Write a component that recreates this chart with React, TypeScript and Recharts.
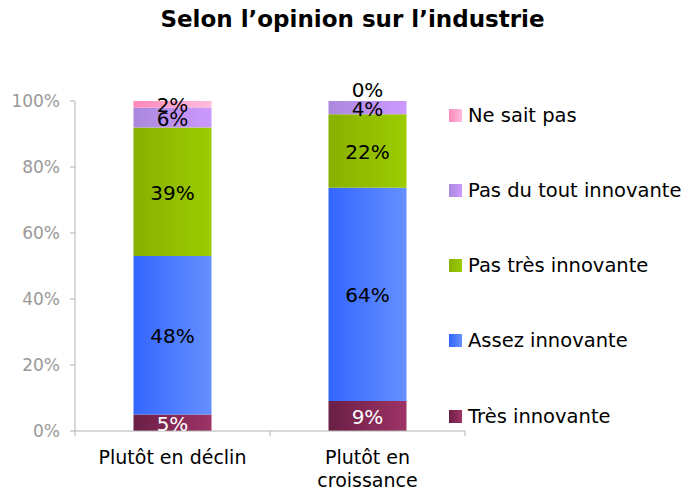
import { BarChart, Bar, XAxis, YAxis, LabelList } from "recharts";

const categories = ["Plutôt en déclin", "Plutôt en croissance"];
const tresInnovante = [5, 9];
const assezInnovante = [48, 64];
const pasTresInnovante = [39, 22];
const pasDuToutInnovante = [6, 4];
const neSaitPas = [2, 0];

const yTicks = [0, 0.2, 0.4, 0.6, 0.8, 1];

const series = [
    { key: "tres", name: "Très innovante", values: tresInnovante, from: "#6a1f45", to: "#9e3366", text: "#ffffff" },
    { key: "assez", name: "Assez innovante", values: assezInnovante, from: "#3366ff", to: "#6690ff", text: "#000000" },
    { key: "pasTres", name: "Pas très innovante", values: pasTresInnovante, from: "#88b000", to: "#9ccc00", text: "#000000" },
    { key: "pasDuTout", name: "Pas du tout innovante", values: pasDuToutInnovante, from: "#aa88dd", to: "#cc99ff", text: "#000000" },
    { key: "nsp", name: "Ne sait pas", values: neSaitPas, from: "#ff88bb", to: "#ffbbdd", text: "#000000" },
];

const data = categories.map((cat, i) => {
    const row: Record<string, string | number> = { cat };
    series.forEach((s) => {
        row[s.key] = s.values[i];
    });
    return row;
});

const FONT = "'DejaVu Sans', Verdana, sans-serif";

// zero-height segments get no label of their own, so the segment below
// prints the "0%" of the one on top of it, above the bar
const makeLabel = (color: string, above?: number[]) => (props: any) => {
    const { x, y, width, height, value, index } = props;
    if (value === 0) return null;
    const cx = x + width / 2;
    const extra = above && above[index] === 0;
    return (
        <g>
            <text x={cx} y={y + height / 2 + 1} fill={color} fontSize={20} fontFamily={FONT}
                textAnchor="middle" dominantBaseline="central">
                {value}%
            </text>
            {extra && (
                <text x={cx} y={y - 11} fill="#000" fontSize={20} fontFamily={FONT}
                    textAnchor="middle" dominantBaseline="central">
                    {above![index]}%
                </text>
            )}
        </g>
    );
};

// simple word wrap, like the excel original
const wrap = (s: string, max: number) => {
    const lines: string[] = [];
    let cur = "";
    s.split(" ").forEach((w) => {
        const next = cur ? cur + " " + w : w;
        if (next.length > max && cur) {
            lines.push(cur);
            cur = w;
        } else cur = next;
    });
    if (cur) lines.push(cur);
    return lines;
};

const CatTick = (props: any) => {
    const { x, y, payload, index } = props;
    const band = 195;
    return (
        <g>
            <line x1={x + band / 2} y1={y - 8} x2={x + band / 2} y2={y - 3} stroke="#b3b3b3" />
            {index === 0 && <line x1={x - band / 2} y1={y - 8} x2={x - band / 2} y2={y - 3} stroke="#b3b3b3" />}
            <text x={x} y={y + 10} textAnchor="middle" fontSize={19} fontFamily={FONT} fill="#000">
                {wrap(payload.value, 16).map((l, i) => (
                    <tspan key={i} x={x} dy={i === 0 ? "0.8em" : 23}>{l}</tspan>
                ))}
            </text>
        </g>
    );
};

export default function App() {
    return (
        <div style={{ position: "absolute", left: 0, top: 0, width: 685, height: 491, background: "#fff", fontFamily: FONT }}>
            <div style={{ position: "absolute", left: 0, width: 685, top: 6, textAlign: "center", fontSize: 23, fontWeight: "bold", paddingLeft: 20, boxSizing: "border-box" }}>
                Selon l’opinion sur l’industrie
            </div>
            <BarChart width={685} height={491} data={data} stackOffset="expand" barCategoryGap="30%"
                margin={{ top: 101, right: 220, bottom: 0, left: 0 }}>
                <defs>
                    {series.map((s) => (
                        <linearGradient key={s.key} id={`g-${s.key}`} x1="0" y1="0" x2="1" y2="0">
                            <stop offset="0%" stopColor={s.from} />
                            <stop offset="100%" stopColor={s.to} />
                        </linearGradient>
                    ))}
                </defs>
                <XAxis dataKey="cat" axisLine={{ stroke: "#b3b3b3" }} tickLine={false} interval={0}
                    tick={<CatTick />} height={60} />
                <YAxis width={75} domain={[0, 1]} ticks={yTicks} tickFormatter={(v: number) => `${Math.round(v * 100)}%`}
                    axisLine={{ stroke: "#b3b3b3" }} tickLine={{ stroke: "#b3b3b3" }} tickSize={5} tickMargin={10}
                    tick={{ fill: "#999999", fontSize: 17, fontFamily: FONT }} />
                {series.map((s, i) => (
                    <Bar key={s.key} dataKey={s.key} name={s.name} stackId="a" fill={`url(#g-${s.key})`} isAnimationActive={false}>
                        <LabelList dataKey={s.key} content={makeLabel(s.text, series[i + 1]?.values)} />
                    </Bar>
                ))}
            </BarChart>
            <div style={{ position: "absolute", left: 449, top: 101, height: 330 }}>
                {[...series].reverse().map((s, i) => (
                    <div key={s.key} style={{ position: "absolute", top: 14 + i * 75.3 - 12, left: 0, display: "flex", alignItems: "center", whiteSpace: "nowrap", height: 24 }}>
                        <span style={{ display: "inline-block", width: 13, height: 13, background: `linear-gradient(to right, ${s.from}, ${s.to})`, marginRight: 6 }} />
                        <span style={{ fontSize: 19.5, color: "#000" }}>{s.name}</span>
                    </div>
                ))}
            </div>
        </div>
    );
}
